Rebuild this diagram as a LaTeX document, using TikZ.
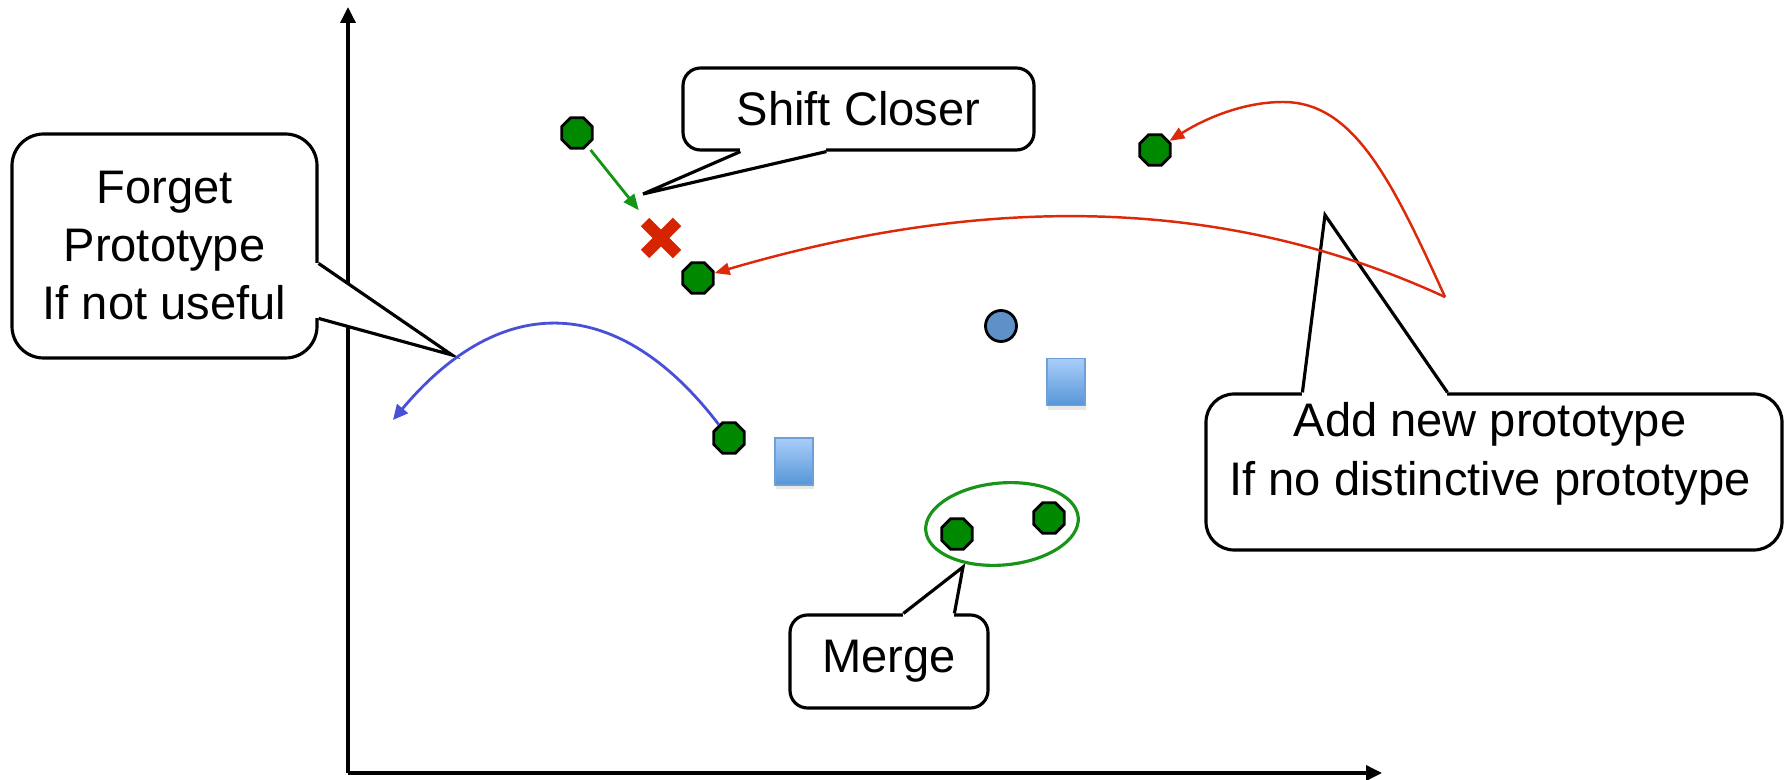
\documentclass[tikz,border=0pt]{standalone}
\usepackage{fontspec}
\setmainfont{Liberation Sans}
\usetikzlibrary{arrows.meta}
\usetikzlibrary{shapes.geometric, shapes.misc}
\usetikzlibrary{shadows}
\usetikzlibrary{calc}

\definecolor{protogreen}{RGB}{0,136,0}
\definecolor{mergegreen}{RGB}{24,148,24}
\definecolor{shiftgreen}{RGB}{20,150,20}
\definecolor{addred}{RGB}{222,40,10}
\definecolor{crossred}{RGB}{214,36,0}
\definecolor{forgetblue}{RGB}{72,80,216}
\definecolor{sampleblue}{RGB}{95,145,200}
\definecolor{boxtop}{RGB}{170,205,250}
\definecolor{boxbottom}{RGB}{85,150,215}
\definecolor{boxedge}{RGB}{110,160,216}

% tail of a speech bubble: base, tip, base
\newcommand{\calltail}[3]{%
  \fill[white] (#1) -- (#2) -- (#3) -- cycle;
  \draw[white, line width=1.8pt] (#1) -- (#3);
  \draw[line width=0.9pt, line join=miter] (#1) -- (#2) -- (#3);
}

\begin{document}
\begin{tikzpicture}[
    proto/.style={regular polygon, regular polygon sides=8, draw, line width=0.8pt, fill=protogreen, minimum size=0.33cm, inner sep=0pt},
    samplebox/.style={rectangle, draw=boxedge, line width=0.4pt, top color=boxtop, bottom color=boxbottom, minimum width=0.38cm, minimum height=0.47cm, inner sep=0pt, drop shadow={opacity=0.18, shadow xshift=0.4pt, shadow yshift=-1.2pt}},
    bubble/.style={draw, line width=0.9pt, fill=white, rounded corners=#1, align=center, inner sep=0pt, font=\fontsize{13.4}{16.5}\selectfont},
    bubble/.default=5pt,
    axis/.style={line width=1pt, -{Triangle[length=0.16cm, width=0.15cm]}},
    addarrow/.style={addred, line width=0.7pt, -{Triangle[length=0.15cm, width=0.12cm]}},
  ]

  \useasboundingbox (0,0) rectangle (17.86,7.79);

  % axes
  \coordinate (origin) at (3.48,0.06);
  \coordinate (ytop) at (3.48,7.72);
  \coordinate (xend) at (13.82,0.06);
  \draw[axis] (origin) -- (ytop);
  \draw[axis] (origin) -- (xend);

  % speech bubbles
  \node[bubble=5pt, minimum width=3.51cm, minimum height=0.82cm] (shift) at (8.585,6.70) {Shift Closer};
  \coordinate (shifttip) at (6.43,5.85);
  \coordinate (shiftb1) at ($(shift.south west)+(0.59,0)$);
  \coordinate (shiftb2) at ($(shift.south west)+(1.45,0)$);
  \calltail{shiftb1}{shifttip}{shiftb2}

  \node[bubble=9pt, minimum width=3.05cm, minimum height=2.24cm] (forget) at (1.645,5.33) {Forget\\Prototype\\If not useful};
  \coordinate (forgettip) at (4.52,4.24);
  \coordinate (forgetb1) at ($(forget.north east)+(0,-1.31)$);
  \coordinate (forgetb2) at ($(forget.north east)+(0,-1.86)$);
  \calltail{forgetb1}{forgettip}{forgetb2}

  \node[bubble=8pt, minimum width=5.76cm, minimum height=1.56cm] (addbox) at (14.94,3.07) {};
  \node[font=\fontsize{13.4}{16.8}\selectfont, align=center, inner sep=0pt] (addtext) at (14.90,3.25) {Add new prototype\\If no distinctive prototype};
  \coordinate (addtip) at (13.25,5.64);
  \coordinate (addb1) at ($(addbox.north west)+(0.98,0)$);
  \coordinate (addb2) at ($(addbox.north west)+(2.43,0)$);
  \calltail{addb1}{addtip}{addb2}

  \node[bubble=5pt, minimum width=1.98cm, minimum height=0.93cm] (merge) at (8.89,1.175) {Merge};
  \coordinate (mergetip) at (9.63,2.12);
  \coordinate (mergeb1) at ($(merge.north west)+(1.15,0)$);
  \coordinate (mergeb2) at ($(merge.north west)+(1.66,0)$);
  \calltail{mergeb1}{mergetip}{mergeb2}

  % prototypes and samples
  \foreach \n/\x/\y in {proto1/5.77/6.46, proto2/6.98/5.01, proto3/7.29/3.41, proto4/11.55/6.29, proto5/9.57/2.45, proto6/10.49/2.61}
    \node[proto] (\n) at (\x,\y) {};

  \node[circle, draw, line width=0.8pt, fill=sampleblue, minimum size=0.31cm, inner sep=0pt] (sample) at (10.01,4.53) {};
  \node[samplebox] (box1) at (7.94,3.175) {};
  \node[samplebox] (box2) at (10.66,3.97) {};

  \node[cross out, draw=crossred, line width=3.4pt, minimum size=0.32cm, inner sep=0pt, outer sep=0pt] (oldpos) at (6.61,5.41) {};

  \node[ellipse, draw=mergegreen, line width=0.9pt, minimum width=1.53cm, minimum height=0.82cm, rotate=5, inner sep=0pt] (mergering) at (10.02,2.55) {};

  % moves
  \draw[shiftgreen, line width=0.8pt, -{Triangle[length=0.16cm, width=0.13cm]}, shorten <=0.05cm, shorten >=0.15cm] (proto1) -- (oldpos);

  \coordinate (addsrc) at (14.45,4.82);
  \coordinate (addpeak) at (12.83,6.77);
  \draw[addarrow] (addsrc) .. controls (12.09,5.91) and (9.64,5.79) .. (proto2);
  \draw[addarrow] (addsrc) .. controls (13.91,6.01) and (13.53,6.77) .. (addpeak)
    .. controls (12.40,6.77) and (12.01,6.58) .. (proto4);

  \coordinate (forgetend) at (3.93,3.59);
  \draw[forgetblue, line width=0.8pt, -{Triangle[length=0.15cm, width=0.14cm]}] (proto3) .. controls (6.19,4.85) and (5.02,4.89) .. (forgetend);

\end{tikzpicture}
\end{document}
